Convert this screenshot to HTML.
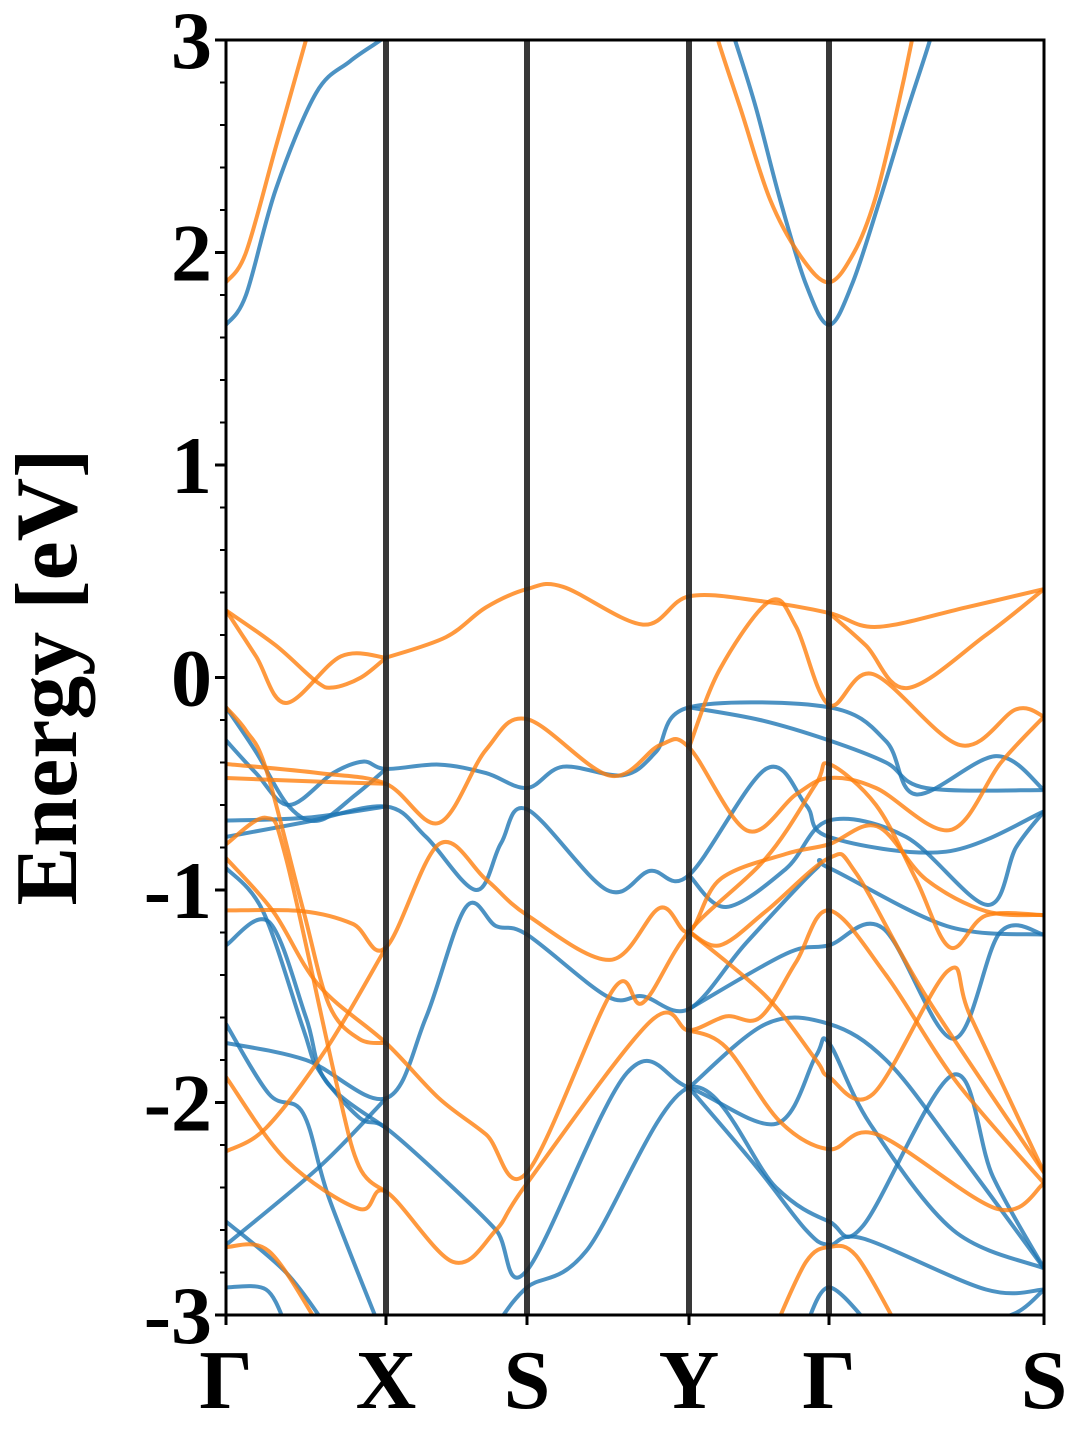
<!DOCTYPE html>
<html><head><meta charset="utf-8">
<style>
html,body{margin:0;padding:0;background:#fff;}
svg text{font-family:"Liberation Serif",serif;font-weight:bold;}
</style></head>
<body>
<svg id="chart" width="1080" height="1440" viewBox="0 0 1080 1440" xmlns="http://www.w3.org/2000/svg">
<defs><clipPath id="plotclip"><rect x="226" y="40" width="818" height="1275"/></clipPath></defs>
<g id="bands" clip-path="url(#plotclip)"></g>
<g id="vlines"></g>
<rect x="226" y="40" width="818" height="1275" fill="none" stroke="#000" stroke-width="3"/>
<g id="axes"></g>
<text x="76" y="677" font-size="88" text-anchor="middle" transform="rotate(-90 76 677)">Energy [eV]</text>
</svg>
<script>
const kTicks = [0, 160, 301, 463, 603, 818];
const kLabels = ["Γ", "X", "S", "Y", "Γ", "S"];
const yTicks = [3, 2, 1, 0, -1, -2, -3];
const yTickLabels = ["3", "2", "1", "0", "-1", "-2", "-3"];
const upBands = [
 [[0,1.86],[20,2.0],[50,2.5],[80,3.0],[90,3.2]],
 [[478,3.25],[492,3.0],[515,2.67],[544,2.25],[575,1.98],[603,1.86],[628,2.0],[649,2.25],[670,2.65],[686,3.0],[695,3.25]],
 [[0,0.316],[30,0.1],[60,-0.12],[115,0.1],[160,0.093]],
 [[0,0.316],[50,0.15],[90,-0.018],[107,-0.047],[135,0.0],[160,0.093]],
 [[160,0.093],[220,0.19],[260,0.33],[301,0.416],[337,0.427],[417,0.249],[463,0.382],[534,0.36],[603,0.304],[651,0.238],[740,0.33],[818,0.416]],
 [[603,0.304],[640,0.15],[681,-0.05],[760,0.2],[818,0.416]],
 [[463,-0.329],[494,0.04],[544,0.36],[570,0.24],[603,-0.129],[647,0.016],[734,-0.318],[790,-0.15],[818,-0.184]],
 [[0,-0.407],[93,-0.45],[160,-0.5],[213,-0.684],[260,-0.34],[301,-0.196],[384,-0.462],[434,-0.318],[463,-0.329],[521,-0.72],[570,-0.55],[603,-0.473],[650,-0.52],[724,-0.718],[775,-0.4],[818,-0.184]],
 [[0,-0.473],[93,-0.49],[160,-0.5]],
 [[0,-0.14],[20,-0.25],[40,-0.43],[77,-1.09],[103,-1.54],[133,-1.7],[160,-1.72]],
 [[0,-0.785],[40,-0.66],[60,-0.85],[110,-1.9],[133,-2.3],[160,-2.42]],
 [[0,-0.85],[47,-1.1],[93,-1.45],[160,-1.72],[213,-1.98],[260,-2.15],[301,-2.33],[387,-1.47],[417,-1.53],[463,-1.196],[540,-0.85],[590,-0.5],[603,-0.407],[650,-0.6],[690,-0.95],[724,-1.27],[760,-1.12],[818,-1.118]],
 [[0,-1.096],[77,-1.1],[127,-1.16],[160,-1.27],[213,-0.784],[260,-0.95],[301,-1.118],[384,-1.329],[434,-1.084],[463,-1.196],[494,-0.95],[560,-0.83],[603,-0.785],[651,-0.7],[700,-0.95],[760,-1.1],[818,-1.118]],
 [[0,-2.23],[40,-2.12],[100,-1.75],[160,-1.27]],
 [[0,-1.88],[60,-2.27],[133,-2.5],[160,-2.42],[227,-2.75],[270,-2.6],[301,-2.38],[424,-1.62],[463,-1.66],[500,-1.595],[534,-1.6],[570,-1.34],[603,-1.096],[660,-1.4],[730,-1.9],[818,-2.38]],
 [[463,-1.196],[494,-1.26],[540,-1.1],[603,-0.85],[630,-0.92],[700,-1.5],[818,-2.33]],
 [[463,-1.196],[540,-1.5],[590,-1.8],[603,-1.88],[647,-1.96],[722,-1.38],[745,-1.6],[818,-2.33]],
 [[463,-1.66],[500,-1.74],[554,-2.09],[603,-2.22],[651,-2.15],[771,-2.5],[818,-2.38]],
 [[0,-2.68],[43,-2.7],[93,-3.05]],
 [[550,-3.05],[580,-2.75],[603,-2.68],[630,-2.72],[671,-3.05]]
];
const downBands = [
 [[0,1.66],[20,1.8],[50,2.3],[90,2.75],[124,2.9],[160,3.02],[170,3.1]],
 [[495,3.2],[509,3.0],[530,2.68],[554,2.25],[580,1.85],[603,1.66],[626,1.85],[654,2.25],[680,2.65],[704,3.0],[715,3.2]],
 [[0,-0.14],[30,-0.35],[63,-0.607],[93,-0.673],[130,-0.55],[160,-0.43]],
 [[0,-0.296],[30,-0.45],[63,-0.6],[107,-0.45],[137,-0.396],[160,-0.43],[213,-0.41],[260,-0.45],[301,-0.52],[337,-0.42],[397,-0.46],[430,-0.35],[463,-0.14],[603,-0.14],[660,-0.3],[690,-0.55],[770,-0.37],[818,-0.53]],
 [[0,-0.673],[80,-0.66],[160,-0.607]],
 [[0,-0.75],[80,-0.68],[160,-0.607],[200,-0.75],[250,-1.0],[275,-0.78],[301,-0.62],[381,-1.0],[424,-0.91],[463,-0.93],[540,-0.43],[580,-0.6],[603,-0.75],[720,-0.82],[818,-0.63]],
 [[463,-0.14],[534,-0.2],[603,-0.296],[660,-0.4],[700,-0.52],[818,-0.53]],
 [[463,-0.93],[500,-1.08],[560,-0.9],[603,-0.673],[680,-0.75],[761,-1.07],[790,-0.8],[818,-0.63]],
 [[0,-0.896],[37,-1.1],[77,-1.65],[93,-1.85],[133,-2.07],[160,-2.12],[220,-2.37],[270,-2.6],[301,-2.79],[401,-1.86],[463,-1.93],[550,-2.1],[590,-1.78],[603,-1.72],[644,-2.1],[727,-2.6],[818,-2.78]],
 [[0,-1.26],[43,-1.15],[80,-1.6],[100,-1.9],[160,-2.12]],
 [[0,-1.72],[80,-1.8],[160,-1.98],[200,-1.6],[240,-1.08],[270,-1.17],[301,-1.21],[381,-1.5],[417,-1.5],[463,-1.56],[520,-1.25],[590,-0.9],[603,-0.896],[721,-1.17],[818,-1.21]],
 [[0,-2.67],[94,-2.3],[160,-1.98]],
 [[0,-1.63],[43,-1.96],[77,-2.05],[103,-2.45],[153,-3.05]],
 [[0,-2.56],[60,-2.8],[100,-3.05]],
 [[0,-2.87],[40,-2.88],[60,-3.05]],
 [[270,-3.05],[301,-2.87],[360,-2.7],[463,-1.93],[550,-2.4],[603,-2.56],[637,-2.58],[727,-1.87],[767,-2.35],[818,-2.78]],
 [[463,-1.93],[530,-2.3],[580,-2.6],[603,-2.67],[637,-2.64],[760,-2.88],[818,-2.88]],
 [[463,-1.93],[540,-1.63],[603,-1.63],[660,-1.8],[727,-2.2],[818,-2.78]],
 [[463,-1.56],[560,-1.3],[603,-1.26],[657,-1.18],[727,-1.7],[774,-1.2],[818,-1.21]],
 [[580,-3.05],[603,-2.87],[644,-3.05]],
 [[744,-3.05],[790,-2.99],[818,-2.88]]
];

const X0=226, X1=1044, Y0=40, Y1=1315, KMAX=818, EMIN=-3, EMAX=3;
function xs(k){return X0+(k/KMAX)*(X1-X0);}
function ys(e){return Y0+(EMAX-e)/(EMAX-EMIN)*(Y1-Y0);}
const NS="http://www.w3.org/2000/svg";
function smoothPath(pts){
  const p=pts.map(q=>[xs(q[0]),ys(q[1])]);
  let d="M"+p[0][0].toFixed(1)+","+p[0][1].toFixed(1);
  for(let i=0;i<p.length-1;i++){
    const p0=p[i-1]||p[i],p1=p[i],p2=p[i+1],p3=p[i+2]||p2;
    const c1=[p1[0]+(p2[0]-p0[0])/6,p1[1]+(p2[1]-p0[1])/6];
    const c2=[p2[0]-(p3[0]-p1[0])/6,p2[1]-(p3[1]-p1[1])/6];
    d+=" C"+c1[0].toFixed(1)+","+c1[1].toFixed(1)+" "+c2[0].toFixed(1)+","+c2[1].toFixed(1)+" "+p2[0].toFixed(1)+","+p2[1].toFixed(1);
  }
  return d;
}
const bandsG=document.getElementById('bands');
function drawBands(arr,color,prefix){
  arr.forEach((b,i)=>{
    const el=document.createElementNS(NS,'path');
    el.setAttribute('d',smoothPath(b));
    el.setAttribute('fill','none');
    el.setAttribute('stroke',color);
    el.setAttribute('stroke-opacity','0.8');
    el.setAttribute('stroke-width','4');
    
    
    bandsG.appendChild(el);
  });
}
drawBands(downBands,'#1f77b4','spin-down');
drawBands(upBands,'#ff7f0e','spin-up');

const vG=document.getElementById('vlines');
const axG=document.getElementById('axes');
kTicks.forEach((k,i)=>{
  const x=xs(k);
  if(i>0 && i<kTicks.length-1){
    const l=document.createElementNS(NS,'line');
    l.setAttribute('x1',x);l.setAttribute('x2',x);l.setAttribute('y1',Y0);l.setAttribute('y2',Y1);
    l.setAttribute('stroke','#222');l.setAttribute('stroke-opacity','0.9');l.setAttribute('stroke-width','6');
    
    
    vG.appendChild(l);
  }
  const t=document.createElementNS(NS,'line');
  t.setAttribute('x1',x);t.setAttribute('x2',x);t.setAttribute('y1',Y1);t.setAttribute('y2',Y1+10);
  t.setAttribute('stroke','#000');t.setAttribute('stroke-width','3');
  
  
  axG.appendChild(t);
  const tx=document.createElementNS(NS,'text');
  tx.setAttribute('x',x);tx.setAttribute('y',1408);tx.setAttribute('font-size','84');tx.setAttribute('text-anchor','middle');
  tx.textContent=kLabels[i];
  
  
  axG.appendChild(tx);
});
for(let e=-3;e<=3.001;e+=0.2){
  const y=ys(e);
  const major=Math.abs(e-Math.round(e))<0.01;
  const t=document.createElementNS(NS,'line');
  t.setAttribute('x1',X0-(major?11:6));t.setAttribute('x2',X0);t.setAttribute('y1',y);t.setAttribute('y2',y);
  t.setAttribute('stroke','#000');t.setAttribute('stroke-width',major?'3':'2');
  
  
  axG.appendChild(t);
}
yTicks.forEach((v,i)=>{
  const tx=document.createElementNS(NS,'text');
  tx.setAttribute('x',212);tx.setAttribute('y',ys(v)+28);tx.setAttribute('font-size','82');tx.setAttribute('text-anchor','end');
  tx.textContent=yTickLabels[i];
  
  
  axG.appendChild(tx);
});
</script>
</body></html>
